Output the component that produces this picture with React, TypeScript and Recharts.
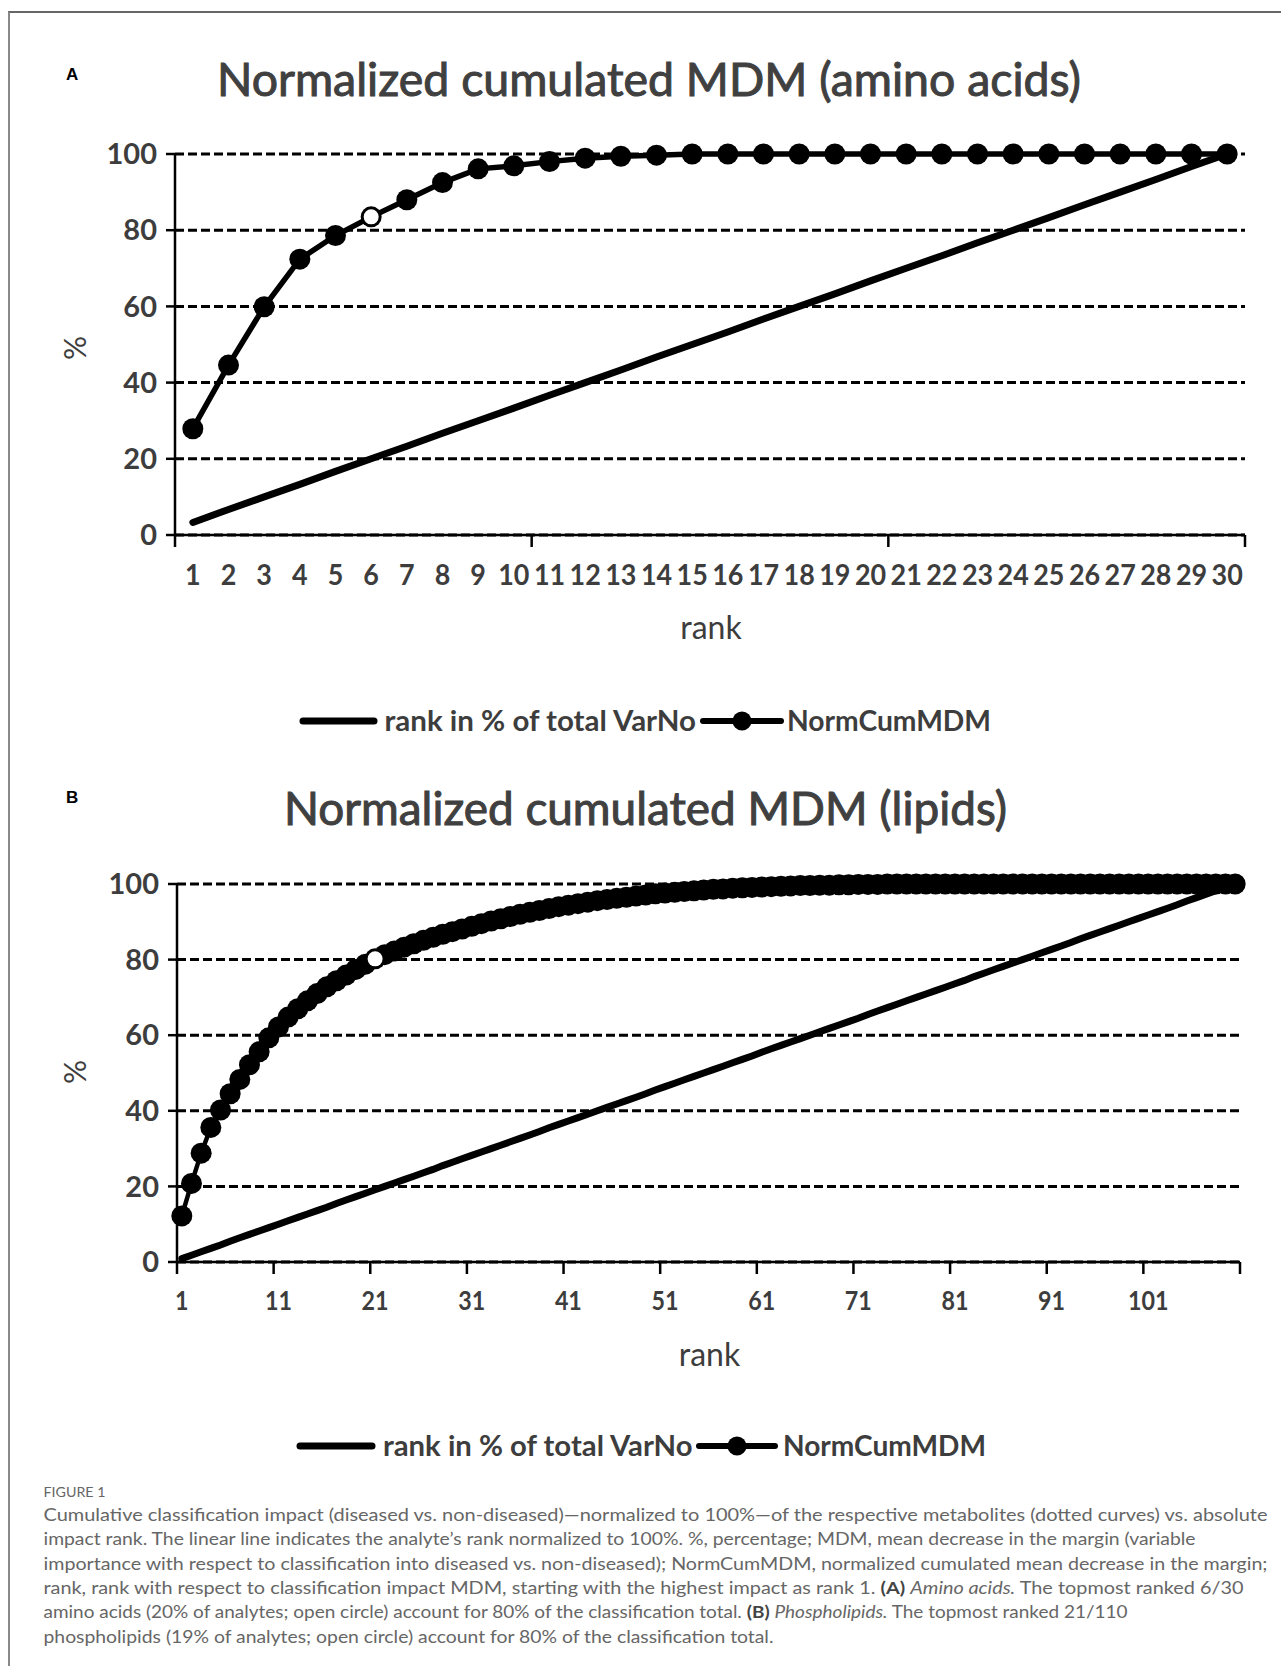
import React from "react";
import { LineChart, Line, XAxis, YAxis, CartesianGrid } from "recharts";

const FONT = "Lato, 'Open Sans', sans-serif";
const INK = "#3d3d3d";

// ---------- Panel A: amino acids ----------
const ranksA = [1, 2, 3, 4, 5, 6, 7, 8, 9, 10, 11, 12, 13, 14, 15, 16, 17, 18, 19, 20, 21, 22, 23, 24, 25, 26, 27, 28, 29, 30];
const rankPctA = [3.3, 6.7, 10, 13.3, 16.7, 20, 23.3, 26.7, 30, 33.3, 36.7, 40, 43.3, 46.7, 50, 53.3, 56.7, 60, 63.3, 66.7, 70, 73.3, 76.7, 80, 83.3, 86.7, 90, 93.3, 96.7, 100];
const normCumA = [27.9, 44.6, 59.9, 72.4, 78.6, 83.5, 88.0, 92.5, 96.1, 96.9, 98.0, 98.9, 99.4, 99.7, 100, 100, 100, 100, 100, 100, 100, 100, 100, 100, 100, 100, 100, 100, 100, 100];
const openRankA = 6;
const xLabelsA = [1, 2, 3, 4, 5, 6, 7, 8, 9, 10, 11, 12, 13, 14, 15, 16, 17, 18, 19, 20, 21, 22, 23, 24, 25, 26, 27, 28, 29, 30];
const xMarksA = [0.5, 10.5, 20.5, 30.5];

// ---------- Panel B: lipids ----------
const ranksB = [
  1, 2, 3, 4, 5, 6, 7, 8, 9, 10, 11, 12, 13, 14, 15, 16, 17, 18, 19, 20,
  21, 22, 23, 24, 25, 26, 27, 28, 29, 30, 31, 32, 33, 34, 35, 36, 37, 38, 39, 40,
  41, 42, 43, 44, 45, 46, 47, 48, 49, 50, 51, 52, 53, 54, 55, 56, 57, 58, 59, 60,
  61, 62, 63, 64, 65, 66, 67, 68, 69, 70, 71, 72, 73, 74, 75, 76, 77, 78, 79, 80,
  81, 82, 83, 84, 85, 86, 87, 88, 89, 90, 91, 92, 93, 94, 95, 96, 97, 98, 99, 100,
  101, 102, 103, 104, 105, 106, 107, 108, 109, 110,
];
const rankPctB = [
  0.9, 1.8, 2.7, 3.6, 4.5, 5.5, 6.4, 7.3, 8.2, 9.1, 10,
  10.9, 11.8, 12.7, 13.6, 14.5, 15.5, 16.4, 17.3, 18.2, 19.1, 20,
  20.9, 21.8, 22.7, 23.6, 24.5, 25.5, 26.4, 27.3, 28.2, 29.1, 30,
  30.9, 31.8, 32.7, 33.6, 34.5, 35.5, 36.4, 37.3, 38.2, 39.1, 40,
  40.9, 41.8, 42.7, 43.6, 44.5, 45.5, 46.4, 47.3, 48.2, 49.1, 50,
  50.9, 51.8, 52.7, 53.6, 54.5, 55.5, 56.4, 57.3, 58.2, 59.1, 60,
  60.9, 61.8, 62.7, 63.6, 64.5, 65.5, 66.4, 67.3, 68.2, 69.1, 70,
  70.9, 71.8, 72.7, 73.6, 74.5, 75.5, 76.4, 77.3, 78.2, 79.1, 80,
  80.9, 81.8, 82.7, 83.6, 84.5, 85.5, 86.4, 87.3, 88.2, 89.1, 90,
  90.9, 91.8, 92.7, 93.6, 94.5, 95.5, 96.4, 97.3, 98.2, 99.1, 100,
];
const normCumB = [
  12.2, 20.8, 28.8, 35.6, 40.2, 44.5, 48.3, 52.2, 55.6, 59.3,
  62.2, 64.8, 67.0, 69.1, 71.0, 72.8, 74.4, 75.9, 77.4, 78.8,
  80.2, 81.3, 82.3, 83.3, 84.2, 85.1, 85.9, 86.7, 87.4, 88.1,
  88.8, 89.5, 90.2, 90.8, 91.4, 92.0, 92.5, 93.0, 93.5, 94.0,
  94.4, 94.8, 95.2, 95.6, 95.9, 96.2, 96.5, 96.8, 97.1, 97.4,
  97.6, 97.8, 98.0, 98.2, 98.4, 98.6, 98.7, 98.9, 99.0, 99.1,
  99.2, 99.3, 99.4, 99.5, 99.6, 99.6, 99.7, 99.7, 99.8, 99.8,
  99.9, 99.9, 99.9, 100, 100, 100, 100, 100, 100, 100,
  100, 100, 100, 100, 100, 100, 100, 100, 100, 100,
  100, 100, 100, 100, 100, 100, 100, 100, 100, 100,
  100, 100, 100, 100, 100, 100, 100, 100, 100, 100,
];
const openRankB = 21;
const xLabelsB = [1, 11, 21, 31, 41, 51, 61, 71, 81, 91, 101];
const xMarksB = [0.5, 10.5, 20.5, 30.5, 40.5, 50.5, 60.5, 70.5, 80.5, 90.5, 100.5, 110.5];

const yTicks = [0, 20, 40, 60, 80, 100];

const seriesNames = ["rank in % of total VarNo", "NormCumMDM"];
const titles = ["Normalized cumulated MDM (amino acids)", "Normalized cumulated MDM (lipids)"];

function buildRows(ranks: number[], pct: number[], cum: number[], openRank: number) {
  return ranks.map((r, i) => ({
    rank: r,
    pct: pct[i],
    cum: cum[i],
    open: r === openRank ? cum[i] : null,
  }));
}

const dataA = buildRows(ranksA, rankPctA, normCumA, openRankA);
const dataB = buildRows(ranksB, rankPctB, normCumB, openRankB);

function makeXTick(labels: number[], digitW: number, fontSize: number, labelDy: number, tickLen: number) {
  return (props: any) => {
    const { x, y, payload } = props;
    const v = Number(payload.value);
    if (!labels.includes(v)) {
      return <line x1={x} y1={y} x2={x} y2={y + tickLen} stroke="#000" strokeWidth={2.5} />;
    }
    const s = String(v);
    return (
      <text
        x={x}
        y={y + labelDy}
        textAnchor="middle"
        fontFamily={FONT}
        fontWeight={700}
        fontSize={fontSize}
        fill={INK}
        textLength={s.length * digitW}
        lengthAdjust="spacingAndGlyphs"
      >
        {s}
      </text>
    );
  };
}

function Panel(props: {
  data: any[];
  top: number;
  height: number;
  margin: any;
  xAxisH: number;
  domain: [number, number];
  ticks: number[];
  tick: any;
  dotR: number;
  lineW: number;
  openDot: any;
}) {
  const { data, top, height, margin, xAxisH, domain, ticks, tick, dotR, lineW, openDot } = props;
  return (
    <div style={{ position: "absolute", left: 0, top, width: 1281, height }}>
      <LineChart width={1281} height={height} data={data} margin={margin}>
        <CartesianGrid vertical={false} stroke="#000" strokeWidth={3} strokeDasharray="9 4" />
        <XAxis
          dataKey="rank"
          type="number"
          domain={domain}
          ticks={ticks}
          interval={0}
          tickSize={0}
          tickMargin={0}
          tickLine={false}
          axisLine={{ stroke: "#000", strokeWidth: 2.5 }}
          tick={tick}
          height={xAxisH}
        />
        <YAxis
          type="number"
          domain={[0, 100]}
          ticks={yTicks}
          interval={0}
          width={80}
          tickSize={9}
          tickMargin={9}
          tickLine={{ stroke: "#000", strokeWidth: 2.5 }}
          axisLine={{ stroke: "#000", strokeWidth: 2.5 }}
          tick={{ fill: INK, fontSize: 29, fontFamily: FONT, fontWeight: 700 }}
        />
        <Line
          dataKey="pct"
          name={seriesNames[0]}
          stroke="#000"
          strokeWidth={7}
          strokeLinecap="round"
          dot={false}
          isAnimationActive={false}
        />
        <Line
          dataKey="cum"
          name={seriesNames[1]}
          stroke="#000"
          strokeWidth={lineW}
          dot={{ r: dotR, fill: "#000", stroke: "#000", strokeWidth: 0 }}
          isAnimationActive={false}
        />
        <Line dataKey="open" stroke="none" dot={openDot} isAnimationActive={false} />
      </LineChart>
    </div>
  );
}

function LegendRow(props: { y: number; l1: [number, number]; t1: [number, number]; l2: [number, number]; dot: number; t2: [number, number] }) {
  const { y, l1, t1, l2, dot, t2 } = props;
  return (
    <g>
      <line x1={l1[0]} x2={l1[1]} y1={y} y2={y} stroke="#000" strokeWidth={7} strokeLinecap="round" />
      <text x={t1[0]} y={y + 10} fontFamily={FONT} fontWeight={700} fontSize={29} fill={INK} textLength={t1[1]} lengthAdjust="spacingAndGlyphs">
        {seriesNames[0]}
      </text>
      <line x1={l2[0]} x2={l2[1]} y1={y} y2={y} stroke="#000" strokeWidth={6} strokeLinecap="round" />
      <circle cx={dot} cy={y} r={9.5} fill="#000" />
      <text x={t2[0]} y={y + 10} fontFamily={FONT} fontWeight={700} fontSize={29} fill={INK} textLength={t2[1]} lengthAdjust="spacingAndGlyphs">
        {seriesNames[1]}
      </text>
    </g>
  );
}

const capFont = { fontFamily: FONT, fontSize: 17.5, fill: "#666" };

export default function App() {
  return (
    <div style={{ position: "absolute", left: 0, top: 0, width: 1281, height: 1666, background: "#fff", overflow: "hidden" }}>
      <div
        style={{
          position: "absolute",
          left: 8,
          top: 11,
          width: 1273,
          height: 1655,
          borderTop: "2px solid #666",
          borderLeft: "2px solid #888",
        }}
      />
      <svg width={1281} height={1666} style={{ position: "absolute", left: 0, top: 0 }}>
        {/* panel letters */}
        <text x={66} y={80} fontFamily="'Liberation Sans', Arial, sans-serif" fontWeight={700} fontSize={17} fill="#000">A</text>
        <text x={66} y={803} fontFamily="'Liberation Sans', Arial, sans-serif" fontWeight={700} fontSize={17} fill="#000">B</text>
        {/* titles */}
        <text x={649} y={96} textAnchor="middle" fontFamily={FONT} fontSize={46} fill="#404040" stroke="#404040" strokeWidth={1} textLength={864} lengthAdjust="spacingAndGlyphs">
          {titles[0]}
        </text>
        <text x={645.5} y={825} textAnchor="middle" fontFamily={FONT} fontSize={46} fill="#404040" stroke="#404040" strokeWidth={1} textLength={723} lengthAdjust="spacingAndGlyphs">
          {titles[1]}
        </text>
        {/* y axis titles */}
        <text x={74} y={348} transform="rotate(-90 74 348)" textAnchor="middle" dominantBaseline="central" fontFamily={FONT} fontSize={30} fill={INK}>%</text>
        <text x={74} y={1072} transform="rotate(-90 74 1072)" textAnchor="middle" dominantBaseline="central" fontFamily={FONT} fontSize={30} fill={INK}>%</text>
        {/* x axis titles */}
        <text x={711} y={639} textAnchor="middle" fontFamily={FONT} fontSize={32} fill={INK}>rank</text>
        <text x={709.5} y={1366} textAnchor="middle" fontFamily={FONT} fontSize={32} fill={INK}>rank</text>
        {/* legends */}
        <LegendRow y={721} l1={[303, 374]} t1={[384.5, 311.5]} l2={[703, 781]} dot={742} t2={[787, 204]} />
        <LegendRow y={1446} l1={[300, 372]} t1={[383, 309.5]} l2={[699, 775]} dot={737} t2={[783, 203]} />
        {/* caption */}
        <text x={43.5} y={1497} fontFamily={FONT} fontSize={13} fill="#666" textLength={62} lengthAdjust="spacingAndGlyphs">FIGURE 1</text>
        <text x={43.5} y={1521} {...capFont} textLength={1224} lengthAdjust="spacingAndGlyphs">
          Cumulative classification impact (diseased vs. non-diseased)—normalized to 100%—of the respective metabolites (dotted curves) vs. absolute
        </text>
        <text x={43.5} y={1545} {...capFont} textLength={1152} lengthAdjust="spacingAndGlyphs">
          impact rank. The linear line indicates the analyte’s rank normalized to 100%. %, percentage; MDM, mean decrease in the margin (variable
        </text>
        <text x={43.5} y={1570} {...capFont} textLength={1224} lengthAdjust="spacingAndGlyphs">
          importance with respect to classification into diseased vs. non-diseased); NormCumMDM, normalized cumulated mean decrease in the margin;
        </text>
        <text x={43.5} y={1594} {...capFont} textLength={1200} lengthAdjust="spacingAndGlyphs">
          rank, rank with respect to classification impact MDM, starting with the highest impact as rank 1.{" "}
          <tspan fontWeight={700} fill="#444">(A)</tspan> <tspan fontStyle="italic">Amino acids.</tspan> The topmost ranked 6/30
        </text>
        <text x={43.5} y={1618} {...capFont} textLength={1084} lengthAdjust="spacingAndGlyphs">
          amino acids (20% of analytes; open circle) account for 80% of the classification total.{" "}
          <tspan fontWeight={700} fill="#444">(B)</tspan> <tspan fontStyle="italic">Phospholipids.</tspan> The topmost ranked 21/110
        </text>
        <text x={43.5} y={1643} {...capFont} textLength={730} lengthAdjust="spacingAndGlyphs">
          phospholipids (19% of analytes; open circle) account for 80% of the classification total.
        </text>
      </svg>

      <Panel
        data={dataA}
        top={0}
        height={600}
        margin={{ top: 154, right: 36, bottom: 5, left: 95 }}
        xAxisH={60}
        domain={[0.5, 30.5]}
        ticks={[...xMarksA, ...xLabelsA].sort((a, b) => a - b)}
        tick={makeXTick(xLabelsA, 15.6, 29, 50, 12)}
        dotR={10.5}
        lineW={5.5}
        openDot={{ r: 8.5, fill: "#fff", stroke: "#000", strokeWidth: 2 }}
      />
      <Panel
        data={dataB}
        top={700}
        height={620}
        margin={{ top: 184, right: 41, bottom: 5, left: 97 }}
        xAxisH={53}
        domain={[0.5, 110.5]}
        ticks={[...xMarksB, ...xLabelsB].sort((a, b) => a - b)}
        tick={makeXTick(xLabelsB, 13.5, 27, 48, 12)}
        dotR={10.5}
        lineW={4.5}
        openDot={{ r: 7.5, fill: "#fff", stroke: "none", strokeWidth: 0 }}
      />
    </div>
  );
}
